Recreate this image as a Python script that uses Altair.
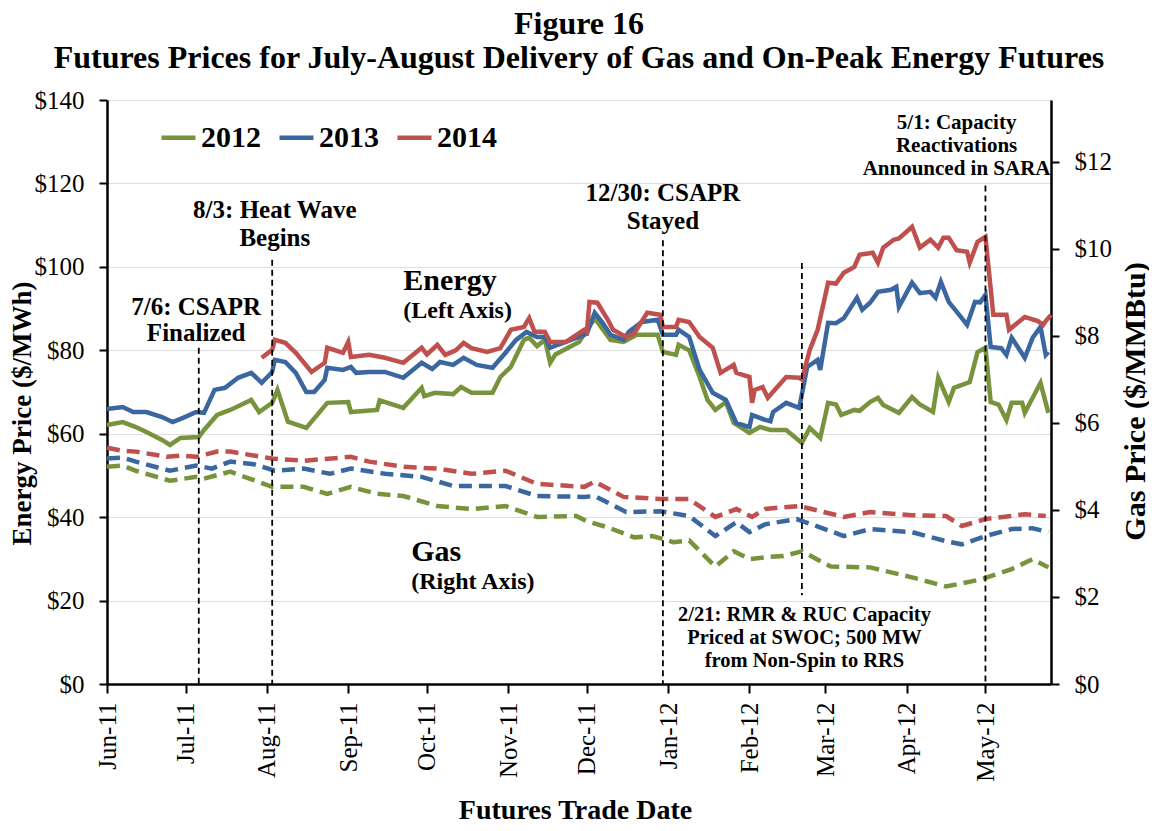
import altair as alt
import pandas as pd

YEARS = ["2012", "2013", "2014"]
COLORS = ["#77933C", "#3A67A0", "#C0504D"]

energy_2012 = [
    ("2011-06-01", 62.1), ("2011-06-07", 62.8), ("2011-06-12", 61.6), ("2011-06-16", 60.4),
    ("2011-06-22", 58.5), ("2011-06-25", 57.3), ("2011-06-29", 59.0), ("2011-07-06", 59.2),
    ("2011-07-08", 60.9), ("2011-07-13", 64.5), ("2011-07-18", 65.7), ("2011-07-22", 66.9),
    ("2011-07-26", 68.1), ("2011-07-29", 65.2), ("2011-08-03", 67.4), ("2011-08-05", 70.5),
    ("2011-08-09", 62.9), ("2011-08-16", 61.4), ("2011-08-24", 67.4), ("2011-09-01", 67.6),
    ("2011-09-02", 65.2), ("2011-09-12", 65.7), ("2011-09-13", 68.0), ("2011-09-22", 66.2),
    ("2011-09-29", 71.0), ("2011-09-30", 69.0), ("2011-10-04", 69.8), ("2011-10-11", 69.5),
    ("2011-10-14", 71.2), ("2011-10-18", 69.8), ("2011-10-26", 69.8), ("2011-10-29", 73.6),
    ("2011-11-02", 76.0), ("2011-11-07", 82.5), ("2011-11-09", 83.0), ("2011-11-12", 81.0),
    ("2011-11-15", 82.5), ("2011-11-17", 77.0), ("2011-11-19", 79.0), ("2011-11-28", 82.0),
    ("2011-12-04", 87.7), ("2011-12-10", 82.5), ("2011-12-15", 82.0), ("2011-12-20", 83.7),
    ("2011-12-28", 83.7), ("2011-12-30", 79.6), ("2012-01-04", 78.9), ("2012-01-05", 81.3),
    ("2012-01-09", 80.0), ("2012-01-13", 73.6), ("2012-01-16", 68.1), ("2012-01-19", 65.7),
    ("2012-01-23", 67.6), ("2012-01-26", 62.6), ("2012-02-01", 60.2), ("2012-02-05", 61.6),
    ("2012-02-09", 60.9), ("2012-02-15", 60.9), ("2012-02-21", 57.8), ("2012-02-24", 61.4),
    ("2012-02-28", 59.0), ("2012-03-02", 67.4), ("2012-03-05", 67.0), ("2012-03-07", 64.5),
    ("2012-03-12", 65.7), ("2012-03-14", 65.5), ("2012-03-18", 67.6), ("2012-03-21", 68.6),
    ("2012-03-23", 66.9), ("2012-03-29", 65.0), ("2012-04-03", 68.8), ("2012-04-06", 67.0),
    ("2012-04-11", 65.2), ("2012-04-13", 73.4), ("2012-04-17", 67.6), ("2012-04-19", 71.0),
    ("2012-04-25", 72.4), ("2012-04-28", 79.6), ("2012-05-01", 80.6), ("2012-05-03", 67.6),
    ("2012-05-06", 67.0), ("2012-05-09", 63.3), ("2012-05-11", 67.4), ("2012-05-15", 67.4),
    ("2012-05-16", 65.0), ("2012-05-22", 72.2), ("2012-05-25", 65.0),
]

energy_2013 = [
    ("2011-06-01", 65.9), ("2011-06-07", 66.4), ("2011-06-11", 65.2), ("2011-06-16", 65.2),
    ("2011-06-22", 64.0), ("2011-06-26", 62.8), ("2011-06-30", 63.8), ("2011-07-05", 65.2),
    ("2011-07-08", 65.0), ("2011-07-12", 70.5), ("2011-07-16", 71.0), ("2011-07-21", 73.4),
    ("2011-07-26", 74.6), ("2011-07-30", 72.2), ("2011-08-03", 74.8), ("2011-08-04", 77.7),
    ("2011-08-08", 77.2), ("2011-08-12", 74.6), ("2011-08-16", 70.0), ("2011-08-19", 70.0),
    ("2011-08-23", 72.9), ("2011-08-24", 75.8), ("2011-08-30", 75.3), ("2011-09-02", 76.0),
    ("2011-09-04", 74.6), ("2011-09-09", 74.8), ("2011-09-15", 74.8), ("2011-09-22", 73.4),
    ("2011-09-29", 77.0), ("2011-10-03", 75.5), ("2011-10-06", 77.2), ("2011-10-11", 76.5),
    ("2011-10-15", 78.2), ("2011-10-20", 76.5), ("2011-10-26", 75.8), ("2011-10-31", 79.4),
    ("2011-11-04", 82.5), ("2011-11-08", 84.4), ("2011-11-12", 83.2), ("2011-11-15", 83.2),
    ("2011-11-17", 80.6), ("2011-11-28", 83.2), ("2011-12-01", 84.0), ("2011-12-04", 89.0),
    ("2011-12-07", 86.6), ("2011-12-10", 83.7), ("2011-12-15", 82.5), ("2011-12-17", 84.4),
    ("2011-12-22", 86.8), ("2011-12-28", 87.3), ("2011-12-30", 83.7), ("2012-01-04", 83.7),
    ("2012-01-05", 84.9), ("2012-01-09", 83.2), ("2012-01-13", 75.3), ("2012-01-18", 69.8),
    ("2012-01-23", 68.1), ("2012-01-27", 62.6), ("2012-02-01", 61.6), ("2012-02-02", 64.5),
    ("2012-02-07", 63.3), ("2012-02-09", 63.0), ("2012-02-10", 65.2), ("2012-02-15", 67.4),
    ("2012-02-20", 66.2), ("2012-02-23", 76.0), ("2012-02-27", 77.7), ("2012-02-28", 75.3),
    ("2012-03-02", 86.6), ("2012-03-05", 86.5), ("2012-03-08", 87.7), ("2012-03-13", 92.6),
    ("2012-03-15", 89.7), ("2012-03-18", 91.4), ("2012-03-21", 94.0), ("2012-03-26", 94.5),
    ("2012-03-28", 95.2), ("2012-03-29", 90.4), ("2012-04-03", 96.2), ("2012-04-06", 93.7),
    ("2012-04-10", 94.0), ("2012-04-12", 92.6), ("2012-04-14", 96.4), ("2012-04-17", 91.6),
    ("2012-04-21", 88.5), ("2012-04-24", 86.1), ("2012-04-27", 91.6), ("2012-04-29", 91.5),
    ("2012-05-01", 93.3), ("2012-05-03", 80.8), ("2012-05-07", 80.5), ("2012-05-09", 78.9),
    ("2012-05-11", 83.0), ("2012-05-16", 78.2), ("2012-05-19", 83.0), ("2012-05-22", 85.6),
    ("2012-05-24", 78.9), ("2012-05-25", 79.6),
]

energy_2014 = [
    ("2011-07-30", 78.2), ("2011-08-03", 80.1), ("2011-08-04", 82.5), ("2011-08-08", 81.8),
    ("2011-08-12", 79.4), ("2011-08-18", 74.8), ("2011-08-23", 77.0), ("2011-08-24", 80.6),
    ("2011-08-30", 79.4), ("2011-09-01", 82.0), ("2011-09-02", 78.4), ("2011-09-09", 78.9),
    ("2011-09-15", 78.2), ("2011-09-22", 77.0), ("2011-09-29", 80.6), ("2011-10-01", 79.0),
    ("2011-10-05", 81.3), ("2011-10-08", 78.9), ("2011-10-12", 80.0), ("2011-10-15", 81.8),
    ("2011-10-18", 80.5), ("2011-10-24", 79.6), ("2011-10-29", 80.5), ("2011-11-02", 84.9),
    ("2011-11-07", 85.6), ("2011-11-09", 87.7), ("2011-11-11", 84.5), ("2011-11-15", 84.4),
    ("2011-11-17", 82.0), ("2011-11-23", 82.0), ("2011-11-30", 84.9), ("2011-12-01", 84.4),
    ("2011-12-02", 91.6), ("2011-12-05", 91.4), ("2011-12-09", 87.3), ("2011-12-11", 84.9),
    ("2011-12-16", 83.2), ("2011-12-19", 84.0), ("2011-12-24", 89.0), ("2011-12-29", 88.5),
    ("2011-12-30", 85.6), ("2012-01-04", 85.6), ("2012-01-05", 87.3), ("2012-01-09", 86.8),
    ("2012-01-13", 83.2), ("2012-01-18", 80.6), ("2012-01-21", 74.6), ("2012-01-26", 76.5),
    ("2012-01-27", 74.6), ("2012-02-01", 73.6), ("2012-02-02", 67.4), ("2012-02-03", 70.5),
    ("2012-02-06", 71.2), ("2012-02-08", 68.6), ("2012-02-15", 73.6), ("2012-02-20", 73.4),
    ("2012-02-21", 73.0), ("2012-02-24", 80.1), ("2012-02-27", 84.9), ("2012-03-02", 96.2),
    ("2012-03-05", 96.0), ("2012-03-08", 98.6), ("2012-03-12", 100.0), ("2012-03-14", 102.9),
    ("2012-03-19", 103.4), ("2012-03-21", 101.0), ("2012-03-23", 104.6), ("2012-03-27", 106.5),
    ("2012-03-29", 106.8), ("2012-04-03", 109.6), ("2012-04-06", 104.6), ("2012-04-10", 106.5),
    ("2012-04-13", 104.6), ("2012-04-15", 107.0), ("2012-04-17", 107.0), ("2012-04-20", 104.0),
    ("2012-04-24", 103.6), ("2012-04-25", 101.0), ("2012-04-28", 106.0), ("2012-05-01", 107.2),
    ("2012-05-04", 88.5), ("2012-05-09", 88.5), ("2012-05-10", 84.9), ("2012-05-16", 88.0),
    ("2012-05-21", 87.0), ("2012-05-23", 86.1), ("2012-05-24", 87.0), ("2012-05-26", 88.5),
]

gas_2012 = [
    ("2011-06-01", 4.99), ("2011-06-07", 5.02), ("2011-06-12", 4.90), ("2011-06-25", 4.67),
    ("2011-07-05", 4.76), ("2011-07-08", 4.72), ("2011-07-18", 4.88), ("2011-08-03", 4.53),
    ("2011-08-15", 4.53), ("2011-08-24", 4.37), ("2011-09-02", 4.53), ("2011-09-12", 4.37),
    ("2011-09-22", 4.32), ("2011-10-05", 4.09), ("2011-10-18", 4.02), ("2011-10-31", 4.09),
    ("2011-11-12", 3.84), ("2011-11-27", 3.86), ("2011-12-01", 3.74), ("2011-12-09", 3.60),
    ("2011-12-19", 3.37), ("2011-12-26", 3.40), ("2012-01-03", 3.26), ("2012-01-09", 3.30),
    ("2012-01-19", 2.70), ("2012-01-26", 3.05), ("2012-02-01", 2.87), ("2012-02-08", 2.92),
    ("2012-02-14", 2.94), ("2012-02-21", 3.05), ("2012-03-03", 2.70), ("2012-03-18", 2.68),
    ("2012-04-03", 2.45), ("2012-04-16", 2.24), ("2012-04-29", 2.40), ("2012-05-11", 2.64),
    ("2012-05-19", 2.87), ("2012-05-25", 2.68),
]

gas_2013 = [
    ("2011-06-01", 5.18), ("2011-06-07", 5.20), ("2011-06-12", 5.11), ("2011-06-25", 4.90),
    ("2011-07-05", 5.02), ("2011-07-11", 4.95), ("2011-07-18", 5.11), ("2011-07-27", 5.05),
    ("2011-08-04", 4.90), ("2011-08-15", 4.95), ("2011-08-25", 4.83), ("2011-09-02", 4.95),
    ("2011-09-15", 4.83), ("2011-09-29", 4.76), ("2011-10-11", 4.55), ("2011-10-31", 4.55),
    ("2011-11-12", 4.32), ("2011-11-30", 4.30), ("2011-12-04", 4.32), ("2011-12-16", 3.95),
    ("2011-12-29", 3.97), ("2012-01-09", 3.86), ("2012-01-19", 3.40), ("2012-01-27", 3.72),
    ("2012-02-01", 3.49), ("2012-02-07", 3.67), ("2012-02-19", 3.79), ("2012-03-03", 3.51),
    ("2012-03-08", 3.40), ("2012-03-18", 3.56), ("2012-04-03", 3.49), ("2012-04-16", 3.28),
    ("2012-04-22", 3.21), ("2012-05-01", 3.40), ("2012-05-11", 3.56), ("2012-05-19", 3.58),
    ("2012-05-25", 3.49),
]

gas_2014 = [
    ("2011-06-01", 5.43), ("2011-06-07", 5.36), ("2011-06-12", 5.34), ("2011-06-24", 5.22),
    ("2011-06-29", 5.25), ("2011-07-05", 5.22), ("2011-07-13", 5.34), ("2011-07-18", 5.34),
    ("2011-07-27", 5.25), ("2011-08-03", 5.18), ("2011-08-15", 5.13), ("2011-09-02", 5.22),
    ("2011-09-09", 5.11), ("2011-09-22", 4.99), ("2011-10-05", 4.95), ("2011-10-18", 4.83),
    ("2011-10-31", 4.90), ("2011-11-12", 4.60), ("2011-11-30", 4.53), ("2011-12-04", 4.65),
    ("2011-12-15", 4.30), ("2011-12-29", 4.25), ("2012-01-09", 4.25), ("2012-01-19", 3.84),
    ("2012-01-27", 4.02), ("2012-02-02", 3.84), ("2012-02-07", 4.02), ("2012-02-12", 4.05),
    ("2012-02-20", 4.09), ("2012-03-08", 3.84), ("2012-03-18", 3.95), ("2012-04-03", 3.88),
    ("2012-04-16", 3.86), ("2012-04-22", 3.63), ("2012-05-01", 3.79), ("2012-05-16", 3.90),
    ("2012-05-24", 3.86),
]

# event markers: date, top and bottom of the dashed line (energy axis units)
event_dates = ["2011-07-06", "2011-08-03", "2011-12-30", "2012-02-21", "2012-05-01"]
event_tops = [80.6, 101.7, 106.4, 100.9, 119.5]
event_bottoms = [0, 0, 0, 21.3, 0]

# annotation lines: text, date, energy-axis value, font size
center_notes = [
    ("7/6: CSAPR", "2011-07-05", 90.4, 25), ("Finalized", "2011-07-05", 84.2, 25),
    ("8/3: Heat Wave", "2011-08-04", 113.6, 25), ("Begins", "2011-08-04", 106.9, 25),
    ("12/30: CSAPR", "2011-12-30", 117.7, 25), ("Stayed", "2011-12-30", 111.0, 25),
    ("2/21: RMR & RUC Capacity", "2012-02-22", 16.5, 20.5),
    ("Priced at SWOC; 500 MW", "2012-02-22", 11.0, 20.5),
    ("from Non-Spin to RRS", "2012-02-22", 5.5, 20.5),
    ("5/1: Capacity", "2012-04-20", 134.5, 21), ("Reactivations", "2012-04-20", 129.0, 21),
    ("Announced in SARA", "2012-04-20", 123.5, 21),
]
left_notes = [
    ("Energy", "2011-09-22", 96.6, 30), ("(Left Axis)", "2011-09-22", 89.4, 24),
    ("Gas", "2011-09-25", 31.6, 30), ("(Right Axis)", "2011-09-25", 24.5, 24),
]

FONT = "Liberation Serif"


def frame(pairs, year):
    return pd.DataFrame({"date": [d for d, _ in pairs], "value": [v for _, v in pairs], "year": year})


energy_df = pd.concat([frame(energy_2012, "2012"), frame(energy_2013, "2013"), frame(energy_2014, "2014")])
gas_df = pd.concat([frame(gas_2012, "2012"), frame(gas_2013, "2013"), frame(gas_2014, "2014")])
events_df = pd.DataFrame({"date": event_dates, "top": event_tops, "bottom": event_bottoms})
center_df = pd.DataFrame(center_notes, columns=["text", "date", "value", "fs"])
left_df = pd.DataFrame(left_notes, columns=["text", "date", "value", "fs"])

month_ticks = [alt.DateTime(year=2011 + (m > 12), month=(m - 1) % 12 + 1, date=1, utc=True) for m in range(6, 18)]
x_domain = [alt.DateTime(year=2011, month=6, date=1, utc=True), alt.DateTime(year=2012, month=5, date=26, utc=True)]

x_axis = alt.Axis(
    values=month_ticks, format="%b-%y", labelAngle=270, labelFont=FONT, labelFontSize=25,
    labelColor="black", tickColor="black", tickSize=9, tickWidth=2, domainColor="black",
    domainWidth=2.5, labelPadding=9, grid=False, title="Futures Trade Date", titleFont=FONT,
    titleFontSize=28, titleFontWeight="bold", titleColor="black", titleX=468, titleY=126,
    titleBaseline="middle", labelOverlap=False,
)
x_enc = alt.X("date:T", scale=alt.Scale(type="utc", domain=x_domain), axis=x_axis)

legend = alt.Legend(
    orient="none", legendX=52, legendY=18, direction="horizontal", title=None,
    labelFont=FONT, labelFontSize=30, labelFontWeight="bold", labelColor="black",
    symbolType="stroke", symbolSize=1156, symbolStrokeWidth=4.5, labelOffset=3,
    columnPadding=9, padding=0, symbolDash=[40, 0],
)
color_enc = alt.Color("year:N", scale=alt.Scale(domain=YEARS, range=COLORS), legend=legend)

energy = alt.Chart(energy_df).mark_line(strokeWidth=4.5).encode(
    x=x_enc,
    y=alt.Y(
        "value:Q", scale=alt.Scale(domain=[0, 140]),
        axis=alt.Axis(
            orient="left", values=list(range(0, 141, 20)), format="$,.0f", labelFont=FONT,
            labelFontSize=25, labelColor="black", tickColor="black", tickSize=8, tickWidth=2,
            domainColor="black", domainWidth=2.5, labelPadding=15, grid=True, gridColor="#DEDEDE",
            gridWidth=1, title="Energy Price ($/MWh)", titleFont=FONT, titleFontSize=27,
            titleFontWeight="bold", titleColor="black", titleAngle=270, titleX=-85, titleY=313,
            titleBaseline="middle", titleAlign="center",
        ),
    ),
    color=color_enc,
)

gas = alt.Chart(gas_df).mark_line(strokeWidth=4.5, strokeDash=[13, 7]).encode(
    x=x_enc,
    y=alt.Y(
        "value:Q", scale=alt.Scale(domain=[0, 13.42]),
        axis=alt.Axis(
            orient="right", values=list(range(0, 13, 2)), format="$,.0f", labelFont=FONT,
            labelFontSize=25, labelColor="black", tickColor="black", tickSize=8, tickWidth=2,
            domainColor="black", domainWidth=2.5, labelPadding=15, grid=False,
            title="Gas Price ($/MMBtu)", titleFont=FONT, titleFontSize=30, titleFontWeight="bold",
            titleColor="black", titleAngle=270, titleX=84, titleY=301, titleBaseline="middle",
            titleAlign="center",
        ),
    ),
    color=color_enc,
)

y_plain = alt.Y("value:Q", scale=alt.Scale(domain=[0, 140]), axis=None)

rules = alt.Chart(events_df).mark_rule(color="black", strokeWidth=1.8, strokeDash=[6, 4]).encode(
    x=x_enc,
    y=alt.Y("top:Q", scale=alt.Scale(domain=[0, 140]), axis=None),
    y2="bottom:Q",
)

center_text = alt.Chart(center_df).mark_text(
    font=FONT, fontWeight="bold", color="black", align="center", baseline="middle"
).encode(x=x_enc, y=y_plain, text="text:N", size=alt.Size("fs:Q", scale=None))

left_text = alt.Chart(left_df).mark_text(
    font=FONT, fontWeight="bold", color="black", align="left", baseline="middle"
).encode(x=x_enc, y=y_plain, text="text:N", size=alt.Size("fs:Q", scale=None))

chart = (
    alt.layer(energy, gas, rules, center_text, left_text)
    .resolve_scale(y="independent")
    .properties(
        width=944,
        height=584,
        padding={"left": 99, "top": 92, "right": 98, "bottom": 139},
        autosize=alt.AutoSizeParams(type="none"),
        title=alt.TitleParams(
            text=["Figure 16", "Futures Prices for July-August Delivery of Gas and On-Peak Energy Futures"],
            font=FONT, fontSize=32, fontWeight="bold", color="black", anchor="middle",
            lineHeight=34, offset=13,
        ),
    )
    .configure_view(stroke=None)
    .configure(background="white")
)

chart.save("out.html", embed_options={"renderer": "svg", "actions": False})
